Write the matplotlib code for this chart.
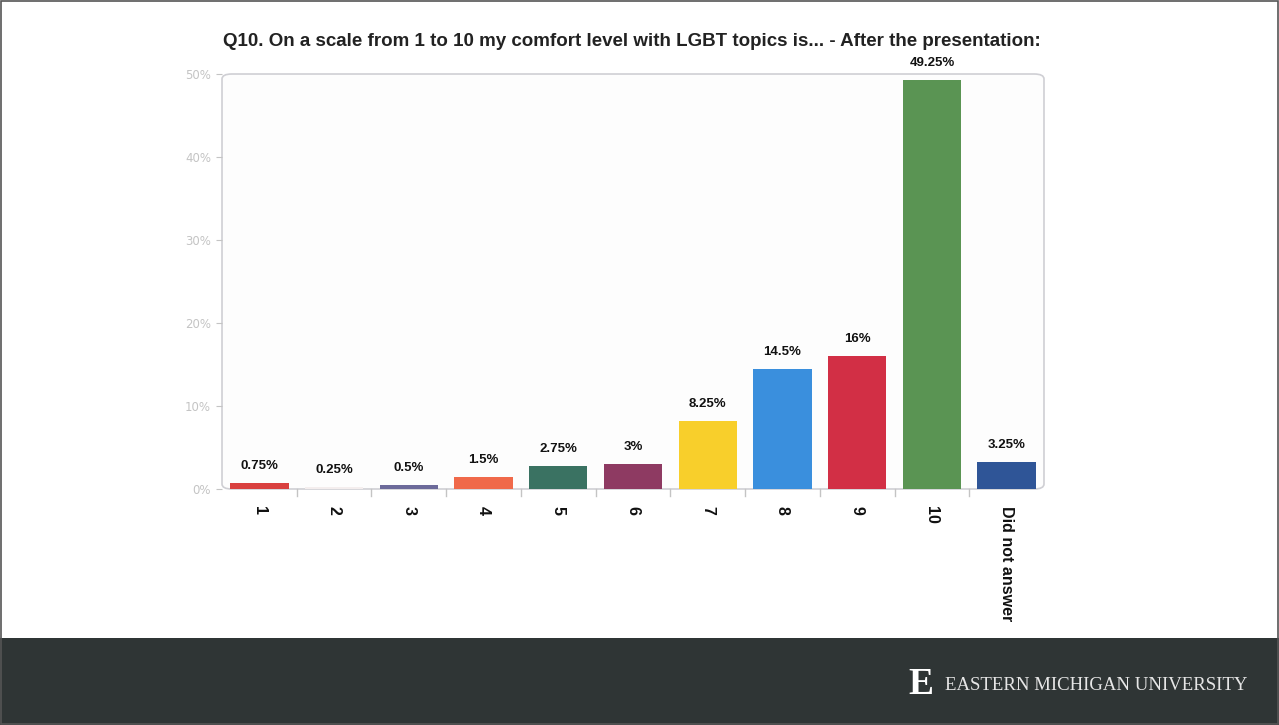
import matplotlib
matplotlib.use("Agg")
import matplotlib.pyplot as plt
from matplotlib.patches import Rectangle, FancyBboxPatch
from matplotlib.ticker import FuncFormatter

# ==========================================
# DATA
# ==========================================

categories = ["1", "2", "3", "4", "5", "6", "7", "8", "9", "10", "Did not answer"]
values = [0.75, 0.25, 0.5, 1.5, 2.75, 3, 8.25, 14.5, 16, 49.25, 3.25]
labels = ["0.75%", "0.25%", "0.5%", "1.5%", "2.75%", "3%", "8.25%", "14.5%", "16%", "49.25%", "3.25%"]
colors = ["#d9403f", "#f4eeee", "#6c6a9a", "#f0694a", "#3a7262", "#8e3a62",
          "#f8cf2b", "#3a8fdd", "#d22f45", "#5a9453", "#2f5597"]

title = "Q10. On a scale from 1 to 10 my comfort level with LGBT topics is... - After the presentation:"
footer = "EASTERN MICHIGAN UNIVERSITY"

# ==========================================
# FIGURE
# ==========================================

W, H = 1279, 725
fig = plt.figure(figsize=(W / 100, H / 100), dpi=100)
fig.patch.set_facecolor("white")

# footer band
fig.patches.append(Rectangle((0, 0), 1, 87 / H, transform=fig.transFigure,
                             facecolor="#2f3535", edgecolor="none", zorder=0))
# thin outer frame
fig.patches.append(Rectangle((0.001, 0.001), 0.998, 0.997, transform=fig.transFigure,
                             facecolor="none", edgecolor="#555555", lw=1.2, zorder=5))

left, right, top, bottom = 222, 1044, 74, 489
ax = fig.add_axes([left / W, (H - bottom) / H, (right - left) / W, (bottom - top) / H])

x = range(len(categories))
ax.bar(x, values, width=0.78, color=colors, zorder=2)

for i, (v, lab) in enumerate(zip(values, labels)):
    ax.text(i, v + 1.3, lab, ha="center", va="bottom", fontsize=9.5,
            fontweight="bold", family="Liberation Sans", color="#111111")

ax.set_xlim(-0.5, len(categories) - 0.5)
ax.set_ylim(0, 50)
ax.set_yticks([0, 10, 20, 30, 40, 50])
ax.yaxis.set_major_formatter(FuncFormatter(lambda v, p: f"{int(v)}%"))
ax.tick_params(axis="y", colors="#c4c4c4", labelsize=8.5, length=4, pad=4)

ax.set_xticks(x)
ax.set_xticklabels(categories, rotation=270, fontsize=11.5, fontweight="bold",
                   family="Liberation Sans", color="#111111")
ax.tick_params(axis="x", length=0, pad=12)
for b in [i + 0.5 for i in range(len(categories) - 1)]:
    ax.plot([b, b], [0, -0.8], color="#c4c4c4", lw=1, clip_on=False)

for s in ax.spines.values():
    s.set_visible(False)
ax.set_facecolor("none")

box = FancyBboxPatch((0, 0), 1, 1, boxstyle="round,pad=0,rounding_size=0.012",
                     transform=ax.transAxes, facecolor="#fdfdfd", edgecolor="#cfcfd4",
                     lw=1.2, zorder=0, clip_on=False)
ax.add_patch(box)

fig.text(632 / W, 1 - 42 / H, title, ha="center", va="center", fontsize=13.5,
         fontweight="bold", family="Liberation Sans", color="#222222")

# footer logo
fig.text(921 / W, 1 - 685 / H, "E", ha="center", va="center", fontsize=27,
         fontweight="bold", family="Liberation Serif", color="white")
fig.text(945 / W, 1 - 686 / H, footer, ha="left", va="center",
         fontsize=13.5, family="Liberation Serif", color="#e6e6e6")

fig.savefig("out.png", dpi=100)
